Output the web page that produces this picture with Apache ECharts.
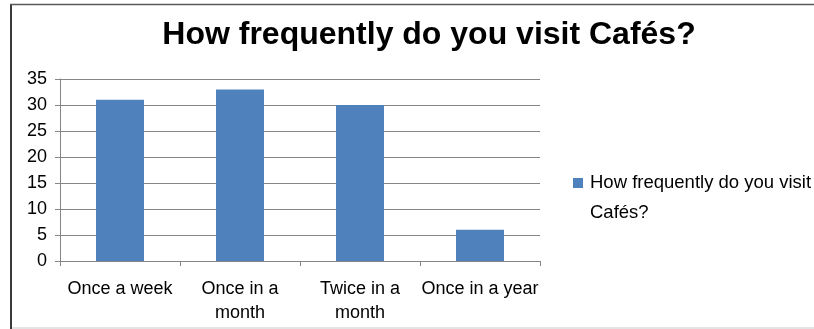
<!DOCTYPE html>
<html>
<head>
<meta charset="utf-8">
<script src="https://cdn.jsdelivr.net/npm/echarts@6/dist/echarts.min.js"></script>
<style>
  html, body { margin: 0; padding: 0; background: #fff; }
  #chart { width: 814px; height: 329px; }
</style>
</head>
<body>
<div id="chart"></div>
<script>
// Survey answers: how often respondents visit cafés
const categories = ['Once a week', 'Once in a\nmonth', 'Twice in a\nmonth', 'Once in a year'];
const visitCounts = [31, 33, 30, 6];
const seriesName = 'How frequently do you visit\nCafés?';
const yTicks = { min: 0, max: 35, interval: 5 };

const FONT = '"Liberation Sans", Arial, sans-serif';

const chart = echarts.init(document.getElementById('chart'), null, { renderer: 'canvas' });

chart.setOption({
  animation: false,
  backgroundColor: '#ffffff',
  title: {
    text: 'How frequently do you visit Cafés?',
    left: 424,
    textAlign: 'center',
    top: 14,
    textStyle: { fontFamily: FONT, fontWeight: 'bold', fontSize: 32, color: '#000' }
  },
  legend: {
    left: 573,
    top: 168,
    padding: 0,
    itemWidth: 10,
    itemHeight: 40,
    // square marker sitting beside the first line of the wrapped name
    icon: 'path://M0,0H10V10H0Z M0,39.9H0.01V40H0Z',
    textStyle: { fontFamily: FONT, fontSize: 18.5, color: '#000', lineHeight: 30, padding: [0, 0, 0, 2] },
    data: [seriesName]
  },
  grid: { left: 60, top: 79, width: 480, height: 182, containLabel: false },
  xAxis: {
    type: 'category',
    data: categories,
    axisLine: { lineStyle: { color: '#868686', width: 1 } },
    axisTick: { show: true, alignWithLabel: false, length: 5, lineStyle: { color: '#868686' } },
    axisLabel: { fontFamily: FONT, fontSize: 18, color: '#000', margin: 16, lineHeight: 24, interval: 0 }
  },
  yAxis: {
    type: 'value',
    min: yTicks.min,
    max: yTicks.max,
    interval: yTicks.interval,
    axisLine: { show: true, lineStyle: { color: '#868686' } },
    axisTick: { show: true, length: 5, lineStyle: { color: '#868686' } },
    axisLabel: { fontFamily: FONT, fontSize: 18, color: '#000', margin: 13 },
    splitLine: { lineStyle: { color: '#868686', width: 1 } }
  },
  series: [{
    name: seriesName,
    type: 'bar',
    data: visitCounts,
    barWidth: '40%',
    itemStyle: { color: '#4F81BD' }
  }],
  graphic: [
    // chart frame: dark left edge, top rule, faint bottom rule
    { type: 'line', shape: { x1: 11, y1: 4, x2: 11, y2: 329 }, style: { stroke: '#3a3a3a', lineWidth: 2 } },
    { type: 'line', shape: { x1: 10, y1: 4.5, x2: 814, y2: 4.5 }, style: { stroke: '#5a5a5a', lineWidth: 1.5 } },
    { type: 'line', shape: { x1: 12, y1: 328, x2: 814, y2: 328 }, style: { stroke: '#c8c8c8', lineWidth: 1 } }
  ]
});
</script>
</body>
</html>
